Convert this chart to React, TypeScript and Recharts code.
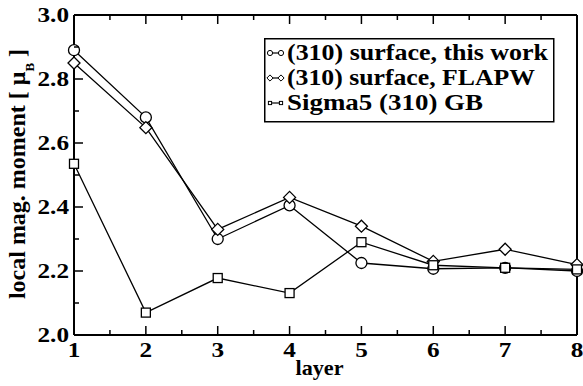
import React from 'react';
import { LineChart, Line, XAxis, YAxis, Legend } from 'recharts';

// values
const layers = [1, 2, 3, 4, 5, 6, 7, 8];
const thisWork = [2.89, 2.68, 2.3, 2.405, 2.225, 2.207, 2.21, 2.2];
const flapw = [2.85, 2.648, 2.33, 2.43, 2.34, 2.23, 2.268, 2.22];
const sigma5 = [2.535, 2.07, 2.178, 2.131, 2.29, 2.218, 2.21, 2.205];

const seriesNames = ['(310) surface, this work', '(310) surface, FLAPW', 'Sigma5 (310) GB'];
const seriesKeys = ['thisWork', 'flapw', 'sigma5'];
const seriesShapes = ['circle', 'diamond', 'square'];

const xTicks = [1, 1.5, 2, 2.5, 3, 3.5, 4, 4.5, 5, 5.5, 6, 6.5, 7, 7.5, 8];
const xLabels = [1, 2, 3, 4, 5, 6, 7, 8];
const yTicks = [2.0, 2.1, 2.2, 2.3, 2.4, 2.5, 2.6, 2.7, 2.8, 2.9, 3.0];
const yLabels = [2.0, 2.2, 2.4, 2.6, 2.8, 3.0];

const data = layers.map((layer, i) => ({
  layer,
  thisWork: thisWork[i],
  flapw: flapw[i],
  sigma5: sigma5[i],
}));

const TXT = { fontFamily: "'Liberation Serif', 'Times New Roman', Times, serif", fontWeight: 700 };
const isIn = (arr: number[], v: number) => arr.some(a => Math.abs(a - v) < 1e-6);

function Marker({ shape, cx, cy, s, w = 1.3 }: { shape: string; cx: number; cy: number; s: number; w?: number }) {
  const st = { fill: '#fff', stroke: '#000', strokeWidth: w };
  if (shape === 'circle') return <circle cx={cx} cy={cy} r={s} {...st} />;
  if (shape === 'diamond') {
    const d = s + 0.5;
    return <polygon points={`${cx},${cy - d} ${cx + d},${cy} ${cx},${cy + d} ${cx - d},${cy}`} {...st} />;
  }
  const h = s - 1;
  return <rect x={cx - h} y={cy - h} width={2 * h} height={2 * h} {...st} />;
}

function BottomTick({ x, y, payload }: any) {
  const v = payload.value;
  const major = isIn(xLabels, v);
  return (
    <g>
      <line x1={x} x2={x} y1={y} y2={y - (major ? 9 : 5)} stroke="#000" strokeWidth={1.5} />
      {major && (
        <text transform={`translate(${x},${y + 22}) scale(1.2,1)`} textAnchor="middle"
          style={{ ...TXT, fontSize: 21 }} fill="#000">{v}</text>
      )}
    </g>
  );
}

function TopTick({ x, y, payload }: any) {
  const major = isIn(xLabels, payload.value);
  return <line x1={x} x2={x} y1={y} y2={y + (major ? 9 : 5)} stroke="#000" strokeWidth={1.5} />;
}

function LeftTick({ x, y, payload }: any) {
  const v = payload.value;
  const major = isIn(yLabels, v);
  return (
    <g>
      <line x1={x} x2={x + (major ? 9 : 5)} y1={y} y2={y} stroke="#000" strokeWidth={1.5} />
      {major && (
        <text transform={`translate(${x - 5},${y + 7}) scale(1.2,1)`} textAnchor="end"
          style={{ ...TXT, fontSize: 21 }} fill="#000">{v.toFixed(1)}</text>
      )}
    </g>
  );
}

function RightTick({ x, y, payload }: any) {
  const major = isIn(yLabels, payload.value);
  return <line x1={x} x2={x - (major ? 9 : 5)} y1={y} y2={y} stroke="#000" strokeWidth={1.5} />;
}

function YTitle({ viewBox }: any) {
  const cx = (viewBox?.x ?? 0) + 25;
  const cy = (viewBox?.y ?? 15) + (viewBox?.height ?? 320) / 2 - 1;
  return (
    <text transform={`translate(${cx},${cy}) rotate(-90)`} textAnchor="middle"
      style={{ ...TXT, fontSize: 24 }} fill="#000">
      local mag. moment [ μ<tspan fontSize={13} dy={9}>B</tspan><tspan dy={-9}> ]</tspan>
    </text>
  );
}

function XTitle({ viewBox }: any) {
  const cx = (viewBox?.x ?? 74) + (viewBox?.width ?? 503) / 2 - 6;
  const cy = (viewBox?.y ?? 335) + 40;
  return (
    <text x={cx} y={cy} textAnchor="middle" textLength={48} lengthAdjust="spacingAndGlyphs"
      style={{ ...TXT, fontSize: 21 }} fill="#000">layer</text>
  );
}

const textWidths = [261, 248, 196];

function LegendBox() {
  return (
    <svg width={292} height={86} style={{ display: 'block' }}>
      <rect x={0.75} y={0.75} width={289} height={83} fill="#fff" stroke="#000" strokeWidth={1.5} />
      {seriesNames.map((name, i) => {
        const base = 22 + i * 25;
        const my = base - 7;
        return (
          <g key={name}>
            <line x1={6} x2={17} y1={my} y2={my} stroke="#000" strokeWidth={1.2} />
            <Marker shape={seriesShapes[i]} cx={6} cy={my} s={2.6} w={1} />
            <Marker shape={seriesShapes[i]} cx={17} cy={my} s={2.6} w={1} />
            <text x={23} y={base} textLength={textWidths[i]} lengthAdjust="spacingAndGlyphs"
              style={{ ...TXT, fontSize: 23 }} fill="#000">{name}</text>
          </g>
        );
      })}
    </svg>
  );
}

export default function App() {
  return (
    <div style={{ position: 'absolute', left: 0, top: 0, width: 583, height: 386, background: '#fff' }}>
      <LineChart width={583} height={386} data={data} margin={{ top: 15, right: 6, bottom: 0, left: 0 }}>
        <XAxis xAxisId="b" dataKey="layer" type="number" domain={[1, 8]} ticks={xTicks} interval={0}
          height={51} tickSize={0} tickMargin={0} tickLine={false} tick={<BottomTick />}
          axisLine={{ stroke: '#000', strokeWidth: 2 }} label={<XTitle />} />
        <XAxis xAxisId="t" dataKey="layer" type="number" domain={[1, 8]} ticks={xTicks} interval={0}
          orientation="top" mirror tickSize={0} tickMargin={0} tickLine={false} tick={<TopTick />}
          axisLine={{ stroke: '#000', strokeWidth: 2 }} />
        <YAxis yAxisId="l" type="number" domain={[2, 3]} ticks={yTicks} interval={0} width={74}
          tickSize={0} tickMargin={0} tickLine={false} tick={<LeftTick />}
          axisLine={{ stroke: '#000', strokeWidth: 2 }} label={<YTitle />} />
        <YAxis yAxisId="r" type="number" domain={[2, 3]} ticks={yTicks} interval={0} orientation="right"
          mirror width={1} tickSize={0} tickMargin={0} tickLine={false} tick={<RightTick />}
          axisLine={{ stroke: '#000', strokeWidth: 2 }} />
        <Legend layout="vertical" align="center" verticalAlign="middle"
          wrapperStyle={{ left: 264, top: 38, width: 292, height: 86 }} content={() => <LegendBox />} />
        {seriesKeys.map((key, i) => (
          <Line key={key} xAxisId="b" yAxisId="l" type="linear" dataKey={key} name={seriesNames[i]}
            stroke="#000" strokeWidth={1.3} isAnimationActive={false} activeDot={false}
            dot={(p: any) => <Marker key={`${key}-${p.index}`} shape={seriesShapes[i]} cx={p.cx} cy={p.cy} s={5.5} />} />
        ))}
      </LineChart>
    </div>
  );
}
